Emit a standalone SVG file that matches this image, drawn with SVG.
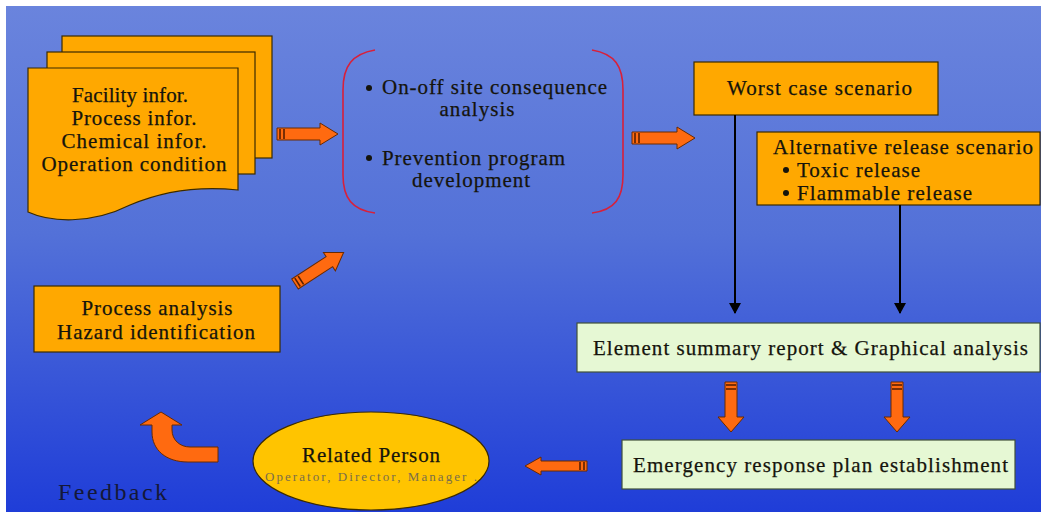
<svg xmlns="http://www.w3.org/2000/svg" width="1045" height="519" viewBox="0 0 1045 519">
<defs>
<linearGradient id="bg" x1="0" y1="0" x2="0" y2="1">
<stop offset="0" stop-color="#6a84dd"/>
<stop offset="0.45" stop-color="#5371d8"/>
<stop offset="1" stop-color="#1f3dd8"/>
</linearGradient>
<marker id="ah" markerWidth="12" markerHeight="12" refX="10" refY="6" orient="auto" markerUnits="userSpaceOnUse">
<path d="M0,0 L11,6 L0,12 Z" fill="#000"/>
</marker>
<style>
.t{font-family:"Liberation Serif","Times New Roman",serif;fill:#15140c;font-size:21px;stroke:#15140c;stroke-width:0.25}
.box{fill:#ffa800;stroke:#3a2a00;stroke-width:1.2}
.gbox{fill:#e6f8d4;stroke:#40503a;stroke-width:1.2}
.oa{fill:#ff6a10;stroke:#6a2a00;stroke-width:1}
.st{stroke:#5a2000;stroke-width:1.6}
.con{stroke:#000;stroke-width:2;fill:none}
.br{fill:none;stroke:#d8203a;stroke-width:1.6}
</style>
</defs>
<rect x="0" y="0" width="1045" height="519" fill="#fff"/>
<rect x="6" y="6" width="1035" height="506" fill="url(#bg)"/>

<g id="documents">
<rect class="box" x="62" y="36" width="210" height="122"/>
<rect class="box" x="47" y="52" width="208" height="122"/>
<path class="box" d="M28,68 H238 V190 C210,187 170,188 130,205 C90,225 50,222 28,212 Z"/>
<text class="t" x="130" y="102" text-anchor="middle" textLength="116" lengthAdjust="spacing">Facility infor.</text>
<text class="t" x="134" y="125" text-anchor="middle" textLength="125" lengthAdjust="spacing">Process infor.</text>
<text class="t" x="134" y="148" text-anchor="middle" textLength="145" lengthAdjust="spacing">Chemical infor.</text>
<text class="t" x="134" y="171" text-anchor="middle" textLength="185" lengthAdjust="spacing">Operation condition</text>
</g>

<g id="analysis">
<path class="br" d="M375,50 C352,54 343,66 343,90 V175 C343,198 352,210 375,213"/>
<path class="br" d="M592,50 C615,54 623,66 623,90 V175 C623,198 615,210 592,213"/>
<circle cx="369" cy="88" r="3" fill="#15140c"/>
<text class="t" x="382" y="94" textLength="225" lengthAdjust="spacing">On-off site consequence</text>
<text class="t" x="477" y="116" text-anchor="middle" textLength="75" lengthAdjust="spacing">analysis</text>
<circle cx="369" cy="158" r="3" fill="#15140c"/>
<text class="t" x="382" y="165" textLength="183" lengthAdjust="spacing">Prevention program</text>
<text class="t" x="471" y="187" text-anchor="middle" textLength="118" lengthAdjust="spacing">development</text>
</g>

<g id="worst">
<rect class="box" x="694" y="62" width="244" height="53"/>
<text class="t" x="727" y="95" textLength="185" lengthAdjust="spacing">Worst case scenario</text>
</g>

<g id="alternative">
<rect class="box" x="757" y="132" width="283" height="73"/>
<text class="t" x="773" y="154" textLength="260" lengthAdjust="spacing">Alternative release scenario</text>
<circle cx="786" cy="170" r="3" fill="#15140c"/>
<text class="t" x="797" y="177" textLength="123" lengthAdjust="spacing">Toxic release</text>
<circle cx="786" cy="193" r="3" fill="#15140c"/>
<text class="t" x="797" y="200" textLength="175" lengthAdjust="spacing">Flammable release</text>
</g>

<g id="process">
<rect class="box" x="34" y="286" width="246" height="66"/>
<text class="t" x="157" y="315" text-anchor="middle" textLength="151" lengthAdjust="spacing">Process analysis</text>
<text class="t" x="156" y="339" text-anchor="middle" textLength="198" lengthAdjust="spacing">Hazard identification</text>
</g>

<g id="summary">
<rect class="gbox" x="577" y="323" width="463" height="49"/>
<text class="t" x="593" y="355" textLength="435" lengthAdjust="spacing">Element summary report &amp; Graphical analysis</text>
</g>

<g id="emergency">
<rect class="gbox" x="622" y="440" width="393" height="49"/>
<text class="t" x="633" y="472" textLength="375" lengthAdjust="spacing">Emergency response plan establishment</text>
</g>

<g id="person">
<ellipse cx="371" cy="461" rx="118" ry="49" fill="#ffc400" stroke="#3a2a00" stroke-width="1.2"/>
<text class="t" x="371" y="462" text-anchor="middle" textLength="138" lengthAdjust="spacing">Related Person</text>
<text x="371" y="481" text-anchor="middle" font-family="Liberation Serif, serif" font-size="13" fill="#7a6e4a" textLength="212" lengthAdjust="spacing">Operator, Director, Manager .</text>
</g>

<g id="feedback">
<path class="oa" d="M218,447 H190 C180,447 172,440 172,430 V425 H182 L161,412 L140,425 H152 V432 C152,450 166,462 188,462 H218 Z"/>
<text x="58" y="500" font-family="Liberation Serif, serif" font-size="24" fill="#141838" textLength="109" lengthAdjust="spacing">Feedback</text>
</g>

<g id="connectors">
<line class="con" x1="735" y1="115" x2="735" y2="313" marker-end="url(#ah)"/>
<line class="con" x1="900" y1="205" x2="900" y2="313" marker-end="url(#ah)"/>
<g transform="translate(277,134)">
<path class="oa" d="M0,-6 H43 V-11 L61,0 L43,11 V6 H0 Z"/>
<line class="st" x1="3" y1="-5" x2="3" y2="5"/><line class="st" x1="7" y1="-5" x2="7" y2="5"/>
</g>
<g transform="translate(632,138)">
<path class="oa" d="M0,-6 H45 V-11 L63,0 L45,11 V6 H0 Z"/>
<line class="st" x1="3" y1="-5" x2="3" y2="5"/><line class="st" x1="7" y1="-5" x2="7" y2="5"/>
</g>
<g transform="translate(295,284) rotate(-33)">
<path class="oa" d="M0,-6 H41 V-11 L58,0 L41,11 V6 H0 Z"/>
<line class="st" x1="3" y1="-5" x2="3" y2="5"/><line class="st" x1="7" y1="-5" x2="7" y2="5"/>
</g>
<g transform="translate(731,382) rotate(90)">
<path class="oa" d="M0,-6 H35 V-13 L50,0 L35,13 V6 H0 Z"/>
<line class="st" x1="3" y1="-5" x2="3" y2="5"/><line class="st" x1="7" y1="-5" x2="7" y2="5"/>
</g>
<g transform="translate(897,382) rotate(90)">
<path class="oa" d="M0,-6 H35 V-13 L50,0 L35,13 V6 H0 Z"/>
<line class="st" x1="3" y1="-5" x2="3" y2="5"/><line class="st" x1="7" y1="-5" x2="7" y2="5"/>
</g>
<g transform="translate(587,466) rotate(180)">
<path class="oa" d="M0,-5 H46 V-9 L62,0 L46,9 V5 H0 Z"/>
<line class="st" x1="3" y1="-4" x2="3" y2="4"/><line class="st" x1="7" y1="-4" x2="7" y2="4"/>
</g>
</g>
</svg>
